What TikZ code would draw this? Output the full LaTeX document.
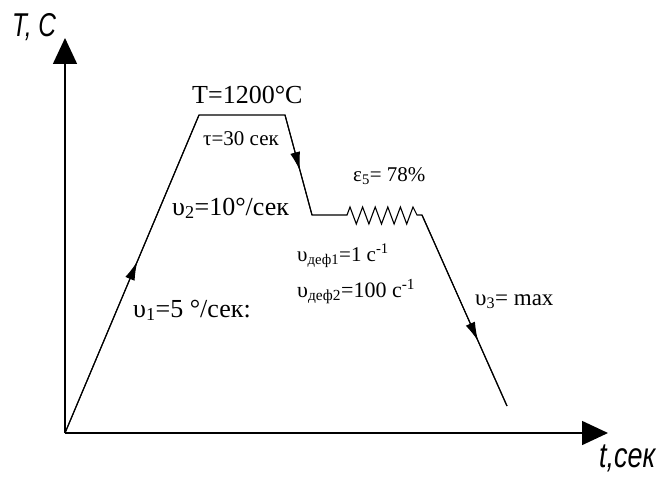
\documentclass[tikz,border=0pt]{standalone}
\usepackage{fontspec}
\setmainfont{Liberation Serif}
\setsansfont{Liberation Sans}
\usetikzlibrary{arrows.meta,decorations.markings}
\newcommand\fs[1]{\fontsize{#1}{#1}\selectfont}

\begin{document}
\begin{tikzpicture}[x=1pt,y=-1pt,>=Latex,
  axis/.style={line width=1.5pt,-{Triangle[length=26pt,width=24pt]}},
  curve/.style={line width=1.1pt,line join=miter},
  midarrow/.style={postaction={decorate},decoration={markings,
    mark=at position #1 with {\arrow{Latex[length=19pt,width=10pt]}}}},
  lbl/.style={anchor=base west,inner sep=0pt},
  axlbl/.style={anchor=base west,inner sep=0pt,font=\sffamily\itshape}]
  \useasboundingbox (0,0) rectangle (660,476);
  % axes
  \coordinate (O) at (65,433);
  \coordinate (ytip) at (65,38);
  \coordinate (xtip) at (608,433);
  \draw[axis] (O) -- (ytip);
  \draw[axis] (O) -- (xtip);
  \node[axlbl] (ylab) at (12,37) {\scalebox{0.74}[1]{\fs{33}T, C}};
  \node[axlbl] (xlab) at (599,467) {\scalebox{1}[1.3]{\fs{27}t,сек}};
  % temperature path
  \coordinate (p1) at (199,115);
  \coordinate (p2) at (285,115);
  \coordinate (p3) at (312,215);
  \coordinate (p4) at (347,215);
  \coordinate (p5) at (417,215);
  \coordinate (p6) at (422,215);
  \coordinate (p7) at (507,406);
  \draw[curve] (O) -- (p1) -- (p2) -- (p3) -- (p4) -- (350,207)
    foreach \k in {1,...,5} { -- ++(6.3,17) -- ++(6.3,-17) }
    -- (p5) -- (p6) -- (p7);
  \draw[curve,midarrow=0.54] (O) -- (p1);
  \draw[curve,midarrow=0.56] (p2) -- (p3);
  \draw[curve,midarrow=0.66] (p6) -- (p7);
  % labels
  \node[lbl,font=\fs{26}] (tmax) at (192,103) {T=1200°C};
  \node[lbl,font=\fs{21}] (hold) at (203,145) {τ=30 сек};
  \node[lbl,font=\fs{26}] (v2) at (172,215) {υ\textsubscript{2}=10°/сек};
  \node[lbl,font=\fs{21}] (eps) at (353,181) {ε\textsubscript{5}= 78\%};
  \node[lbl,font=\fs{21}] (vd1) at (297,261) {υ\textsubscript{деф1}=1 с\textsuperscript{-1}};
  \node[lbl,font=\fs{22}] (vd2) at (297,297) {υ\textsubscript{деф2}=100 с\textsuperscript{-1}};
  \node[lbl,font=\fs{26}] (v1) at (133,317) {υ\textsubscript{1}=5 °/сек:};
  \node[lbl,font=\fs{23}] (v3) at (475,305) {υ\textsubscript{3}= max};
\end{tikzpicture}
\end{document}
